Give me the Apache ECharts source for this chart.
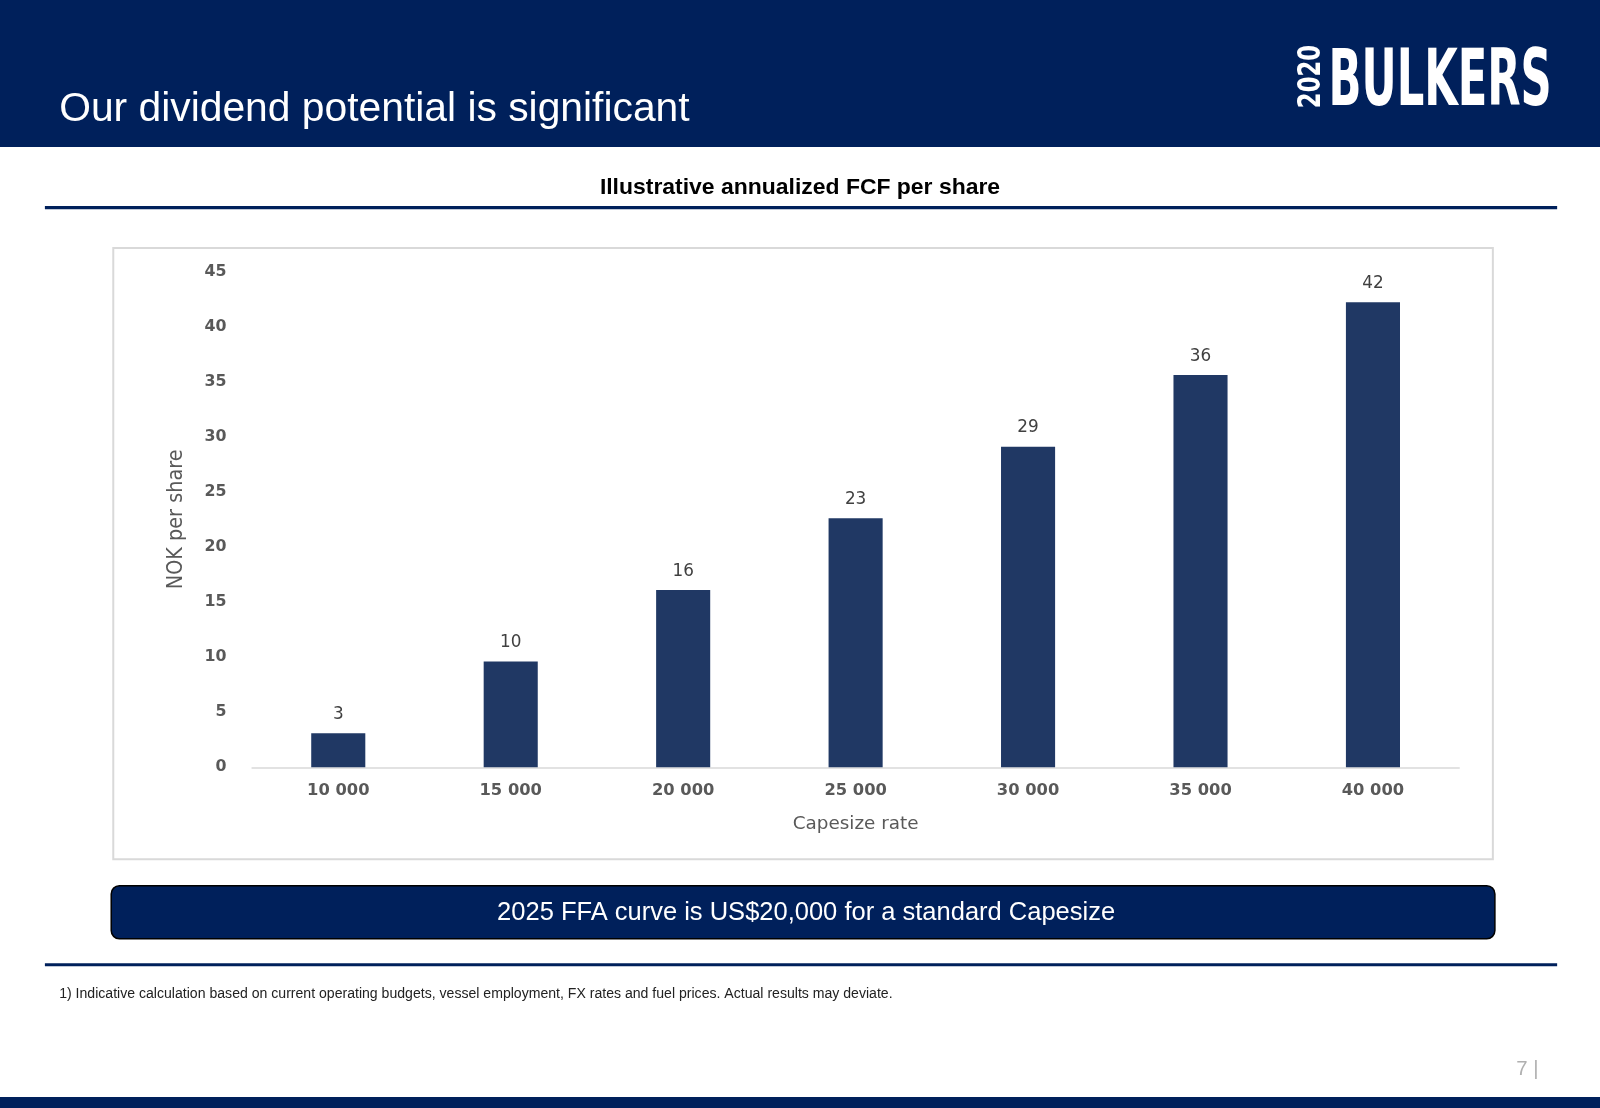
<!DOCTYPE html>
<html><head><meta charset="utf-8">
<script src="https://cdn.jsdelivr.net/npm/echarts@6/dist/echarts.min.js"></script>
<style>html,body{margin:0;padding:0;background:#fff}#c{width:1600px;height:1108px}</style>
</head><body><div id="c"></div>
<script>
const categories = ['10 000','15 000','20 000','25 000','30 000','35 000','40 000'];
const fcfValues = [3.1, 9.6, 16.1, 22.6, 29.1, 35.6, 42.2];
const yTicks = [0,5,10,15,20,25,30,35,40,45];

const s = 1600/1568;
const S = v => v*s;
const navy = '#00205B';
const chart = echarts.init(document.getElementById('c'));
chart.setOption({
  animation:false,
  backgroundColor:'#fff',
  grid:{left:S(247),right:1600-S(1430),top:S(266),bottom:1108-S(752),containLabel:false},
  xAxis:{type:'category',data:categories,
    axisLine:{lineStyle:{color:'#d9d9d9',width:1.5}},axisTick:{show:false},
    axisLabel:{color:'#595959',fontFamily:'DejaVu Sans',fontWeight:'bold',fontSize:S(16),margin:S(15)},
    name:'Capesize rate',nameLocation:'middle',nameGap:S(47),
    nameTextStyle:{color:'#595959',fontFamily:'DejaVu Sans',fontSize:S(18)}},
  yAxis:{type:'value',min:0,max:45,interval:5,
    splitLine:{show:false},axisLine:{show:false},axisTick:{show:false},
    axisLabel:{color:'#595959',fontFamily:'DejaVu Sans',fontWeight:'bold',fontSize:S(15.5),margin:S(25)},
    name:'NOK per share',nameLocation:'middle',nameGap:S(64),nameRotate:90,
    nameTextStyle:{color:'#595959',fontFamily:'DejaVu Sans Condensed',fontSize:S(21)}},
  series:[{type:'bar',data:fcfValues,barWidth:S(53),
    itemStyle:{color:'#203864'},
    label:{show:true,position:'top',distance:S(10),color:'#404040',fontFamily:'DejaVu Sans',fontSize:S(16.5),
      formatter:p=>Math.round(p.value)}}],
  graphic:[
    {type:'rect',shape:{x:0,y:0,width:1600,height:S(144)},style:{fill:navy},z:-1},
    {type:'text',x:S(58),y:S(108),style:{text:'Our dividend potential is significant',fill:'#fff',font:`${S(40)}px "Liberation Sans"`,verticalAlign:'middle'}},
    {type:'text',x:S(1270),y:S(106),rotation:Math.PI/2,scaleX:0.8,style:{text:'2020',fill:'#fff',font:`bold ${S(31)}px "DejaVu Sans Condensed"`,verticalAlign:'top'}},
    {type:'text',x:S(1302),y:S(83),scaleX:0.62,style:{text:'BULKERS',fill:'#fff',font:`bold ${S(76)}px "DejaVu Sans Condensed"`,verticalAlign:'middle'}},
    {type:'text',x:S(784),y:S(184),style:{text:'Illustrative annualized FCF per share',fill:'#000',font:`bold ${S(22.5)}px "Liberation Sans"`,align:'center',verticalAlign:'middle'}},
    {type:'rect',shape:{x:S(44),y:S(202),width:S(1482),height:S(3)},style:{fill:navy}},
    {type:'rect',shape:{x:S(111),y:S(243),width:S(1352),height:S(599)},style:{fill:'none',stroke:'#d9d9d9',lineWidth:2},z:-1},
    {type:'rect',shape:{x:S(109),y:S(868),width:S(1356),height:S(52),r:S(8)},style:{fill:navy,stroke:'#000',lineWidth:1.5}},
    {type:'text',x:S(790),y:S(895),style:{text:'2025 FFA curve is US$20,000 for a standard Capesize',fill:'#fff',font:`${S(25)}px "Liberation Sans"`,align:'center',verticalAlign:'middle'}},
    {type:'rect',shape:{x:S(44),y:S(944),width:S(1482),height:S(3)},style:{fill:navy}},
    {type:'text',x:S(58),y:S(974),style:{text:'1) Indicative calculation based on current operating budgets, vessel employment, FX rates and fuel prices. Actual results may deviate.',fill:'#222',font:`${S(13.8)}px "Liberation Sans"`,verticalAlign:'middle'}},
    {type:'text',x:S(1486),y:S(1048),style:{text:'7 |',fill:'#b0b0b0',font:`${S(20)}px "Liberation Sans"`,verticalAlign:'middle'}},
    {type:'rect',shape:{x:0,y:S(1075),width:1600,height:40},style:{fill:navy}}
  ]
});
</script></body></html>
